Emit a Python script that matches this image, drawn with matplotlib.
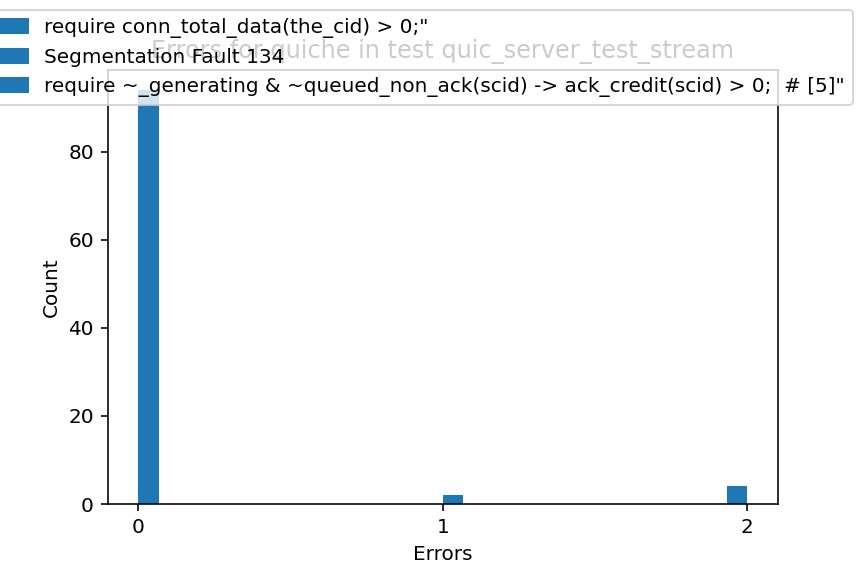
import numpy as np
import matplotlib.pyplot as plt
from matplotlib.patches import Patch

# errors per run and how many runs had them
errors = [0, 1, 2]
counts = [94, 2, 4]
labels = ['require conn_total_data(the_cid) > 0;"',
          'Segmentation Fault 134',
          'require ~_generating & ~queued_non_ack(scid) -> ack_credit(scid) > 0;  # [5]"']

fig = plt.figure(figsize=(6, 4), dpi=144)
ax = fig.add_axes([0.125, 0.125, 0.775, 0.754])

ax.hist(errors, bins=30, weights=counts, color='tab:blue')
ax.set_xticks([0, 1, 2])
ax.set_title('Errors for quiche in test quic_server_test_stream')
ax.set_xlabel('Errors')
ax.set_ylabel('Count')

handles = [Patch(color='tab:blue') for _ in labels]
ax.legend(handles, labels, loc='upper right',
          bbox_to_anchor=(853 / 864, 1 - 10 / 576),
          bbox_transform=fig.transFigure, borderaxespad=0)

fig.savefig('out.png')
